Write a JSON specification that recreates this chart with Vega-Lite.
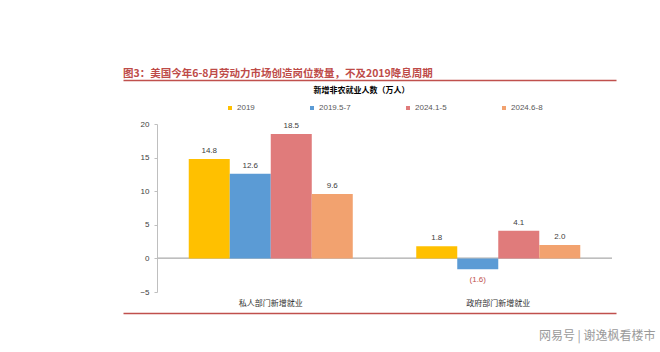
{
  "$schema": "https://vega.github.io/schema/vega-lite/v6.json",
  "autosize": "none",
  "width": 493,
  "height": 168,
  "padding": {"left": 123, "top": 124, "right": 44, "bottom": 60},
  "background": "white",
  "config": {
    "view": {"stroke": null},
    "font": "Liberation Sans"
  },
  "title": {
    "text": "图3：美国今年6-8月劳动力市场创造岗位数量，不及2019降息周期",
    "anchor": "start",
    "frame": "group",
    "fontSize": 10.5,
    "fontWeight": "bold",
    "color": "#BE4B48",
    "font": "Noto Sans CJK SC",
    "offset": 1
  },
  "data": {
    "values": [
      {"category": "私人部门新增就业", "series": "2019", "value": 14.8, "label": "14.8"},
      {"category": "私人部门新增就业", "series": "2019.5-7", "value": 12.6, "label": "12.6"},
      {"category": "私人部门新增就业", "series": "2024.1-5", "value": 18.5, "label": "18.5"},
      {"category": "私人部门新增就业", "series": "2024.6-8", "value": 9.6, "label": "9.6"},
      {"category": "政府部门新增就业", "series": "2019", "value": 1.8, "label": "1.8"},
      {"category": "政府部门新增就业", "series": "2019.5-7", "value": -1.6, "label": "(1.6)"},
      {"category": "政府部门新增就业", "series": "2024.1-5", "value": 4.1, "label": "4.1"},
      {"category": "政府部门新增就业", "series": "2024.6-8", "value": 2.0, "label": "2.0"}
    ]
  },
  "resolve": {"axis": {"x": "independent", "y": "independent"}},
  "layer": [
    {
      "mark": {"type": "bar", "fill": null, "stroke": "#BFBFBF", "strokeWidth": 1, "width": {"band": 1}},
      "encoding": {
        "x": {
          "field": "category", "type": "nominal", "sort": null,
          "scale": {"paddingInner": 0, "paddingOuter": 0.0835, "align": 0.895},
          "axis": {
            "orient": "top", "offset": 44, "labels": false, "ticks": false,
            "domainColor": "#C0504D", "domainWidth": 1.5,
            "title": "新增非农就业人数（万人）",
            "titleX": 238, "titleY": 10, "titleAlign": "center", "titleBaseline": "middle",
            "titleFontSize": 8, "titleFontWeight": "bold", "titleColor": "#000000",
            "titleFont": "Noto Sans CJK SC"
          }
        },
        "y": {
          "datum": 0, "type": "quantitative",
          "scale": {"domain": [-5, 20], "nice": false, "zero": true},
          "axis": {
            "values": [-5, 0, 5, 10, 15, 20], "offset": -34, "grid": false, "title": null,
            "labelOverlap": false, "labelFlush": false, "labelBound": false,
            "domainColor": "#BFBFBF", "tickColor": "#BFBFBF", "tickSize": 3,
            "labelFontSize": 8, "labelColor": "#404040", "labelPadding": 5
          }
        },
        "y2": {"datum": 0}
      }
    },
    {
      "mark": {"type": "bar"},
      "encoding": {
        "x": {
          "field": "category", "type": "nominal", "sort": null,
          "axis": {
            "orient": "bottom", "offset": 21, "ticks": false, "tickSize": 0,
            "domainColor": "#C0504D", "domainWidth": 1.5,
            "labelPadding": -14, "labelAngle": 0, "labelFontSize": 8, "labelColor": "#333333",
            "labelFont": "Noto Sans CJK SC",
            "title": "网易号 | 谢逸枫看楼市",
            "titleX": 532, "titleY": 22, "titleAlign": "right", "titleBaseline": "middle",
            "titleFontSize": 12, "titleFontWeight": "normal", "titleColor": "#9A9A9A",
            "titleFont": "Noto Sans CJK SC"
          }
        },
        "xOffset": {
          "field": "series", "type": "nominal", "sort": null,
          "scale": {"paddingInner": 0, "paddingOuter": 0.774}
        },
        "y": {"field": "value", "type": "quantitative", "axis": null},
        "color": {
          "field": "series", "type": "nominal", "sort": null,
          "scale": {
            "domain": ["2019", "2019.5-7", "2024.1-5", "2024.6-8"],
            "range": ["#FFC000", "#5B9BD5", "#E07B7B", "#F2A26F"]
          },
          "legend": {
            "orient": "none", "legendX": 103, "legendY": -20, "direction": "horizontal",
            "columns": 4, "columnPadding": 53, "title": null,
            "symbolType": "square", "symbolSize": 16, "symbolStrokeWidth": 0,
            "labelFontSize": 8, "labelColor": "#595959", "labelOffset": 3
          }
        }
      }
    },
    {
      "transform": [{"filter": "datum.value >= 0"}],
      "mark": {"type": "text", "baseline": "bottom", "dy": -4, "fontSize": 8, "color": "#404040"},
      "encoding": {
        "x": {"field": "category", "type": "nominal", "sort": null, "axis": null},
        "xOffset": {"field": "series", "type": "nominal", "sort": null},
        "y": {"field": "value", "type": "quantitative", "axis": null},
        "text": {"field": "label"}
      }
    },
    {
      "transform": [{"filter": "datum.value < 0"}],
      "mark": {"type": "text", "baseline": "top", "dy": 7, "fontSize": 8, "color": "#C0504D"},
      "encoding": {
        "x": {"field": "category", "type": "nominal", "sort": null, "axis": null},
        "xOffset": {"field": "series", "type": "nominal", "sort": null},
        "y": {"field": "value", "type": "quantitative", "axis": null},
        "text": {"field": "label"}
      }
    }
  ]
}
